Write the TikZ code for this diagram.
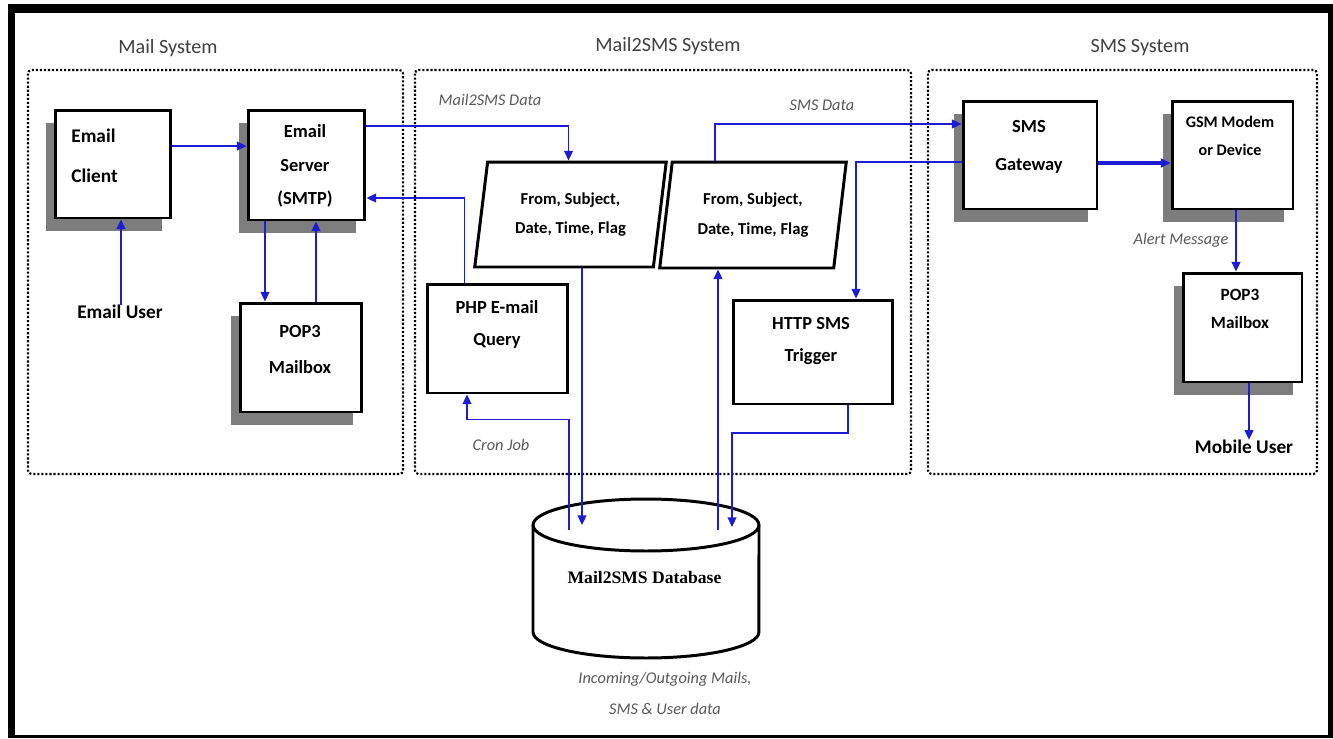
\documentclass[tikz,border=0pt]{standalone}
\usepackage{fontspec}
\setmainfont{Carlito}
\newfontfamily\dbfont{Liberation Serif}
\usetikzlibrary{arrows.meta,shapes.geometric,shadows,calc}
\definecolor{flowblue}{RGB}{28,28,212}
\definecolor{shadowgray}{RGB}{125,125,125}
\tikzset{
  box/.style={draw, line width=1.7pt, fill=white, inner sep=0pt},
  shadowed/.style={drop shadow={shadow xshift=-0.18cm, shadow yshift=-0.26cm, fill=shadowgray, opacity=1}},
  para/.style={box, trapezium, trapezium left angle=79, trapezium right angle=101,
    trapezium stretches=true, align=center, font=\bfseries\fontsize{9.5}{17}\selectfont},
  txt/.style 2 args={font=\bfseries\fontsize{#1}{#2}\selectfont, align=center, inner sep=0pt},
  note/.style={font=\itshape\fontsize{9.3}{17.6}\selectfont, text=black!65, align=center, inner sep=0pt},
  sysname/.style={font=\fontsize{11.5}{14}\selectfont, text=black!75, inner sep=0pt},
  sysframe/.style={line width=1.2pt, dash pattern=on 1.2pt off 1.1pt, rounded corners=2pt},
  flow/.style={draw=flowblue, line width=1pt, -{Triangle[length=5.5pt,width=5pt]}}
}

\begin{document}
\begin{tikzpicture}[x=0.02cm,y=-0.02cm]
 \useasboundingbox (0,0) rectangle (1333,738);
 % outer frame
 \fill[black] (8,4) rectangle (1333,738);
 \fill[white] (15,13) rectangle (1328,735);

 % the three systems
 \draw[sysframe] (28,70) rectangle (403,474);
 \draw[sysframe] (415,70) rectangle (911,474);
 \draw[sysframe] (928,70) rectangle (1317,474);
 \node[sysname] (mailsys) at (168,48) {Mail System};
 \node[sysname] (m2ssys) at (668,46) {Mail2SMS System};
 \node[sysname] (smssys) at (1140,48) {SMS System};

 % mail system
 \node[box, shadowed, minimum width=2.32cm, minimum height=2.16cm] (client) at (113,164) {};
 \node[txt={11}{22.8}, align=left, anchor=west] (clienttxt) at (71,156) {Email\\Client};
 \node[box, shadowed, minimum width=2.34cm, minimum height=2.2cm] (server) at (306.5,165) {};
 \node[txt={10.5}{19}] (servertxt) at (305,166) {Email\\Server\\(SMTP)};
 \node[box, shadowed, minimum width=2.44cm, minimum height=2.18cm] (pop3mail) at (301,357.5) {};
 \node[txt={10.5}{20.5}] (pop3mailtxt) at (300,350) {POP3\\Mailbox};
 \node[txt={11}{13}] (user) at (120,312) {Email User};

 % mail2sms system
 \node[para, minimum width=3.86cm, minimum height=2.1cm] (para1) at (570.5,214.5) {From, Subject,\\Date, Time, Flag};
 \node[para, minimum width=3.76cm, minimum height=2.12cm] (para2) at (753,215) {From, Subject,\\Date, Time, Flag};
 \node[box, minimum width=2.82cm, minimum height=2.18cm] (php) at (497.5,338.5) {};
 \node[txt={10.5}{18.2}] (phptxt) at (497,324) {PHP E-mail\\Query};
 \node[box, minimum width=3.2cm, minimum height=2.08cm] (http) at (813,352) {};
 \node[txt={10.5}{18.2}] (httptxt) at (811,341) {HTTP SMS\\Trigger};
 \node[note] (m2sdata) at (490,100) {Mail2SMS Data};
 \node[note] (smsdata) at (822,105) {SMS Data};
 \node[note] (cron) at (501,445) {Cron Job};

 % sms system
 \node[box, shadowed, minimum width=2.68cm, minimum height=2.16cm] (gateway) at (1030,155) {};
 \node[txt={10.5}{21.6}] (gatewaytxt) at (1029,147) {SMS\\Gateway};
 \node[box, shadowed, minimum width=2.42cm, minimum height=2.16cm] (gsm) at (1232.5,155) {};
 \node[txt={9.2}{16}] (gsmtxt) at (1230,136) {GSM Modem\\or Device};
 \node[box, shadowed, minimum width=2.38cm, minimum height=2.18cm] (pop3sms) at (1242.5,327.5) {};
 \node[txt={9.8}{16}] (pop3smstxt) at (1240,309) {POP3\\Mailbox};
 \node[note] (alert) at (1181,240) {Alert Message};
 \node[txt={11}{13}] (mobile) at (1244,447) {Mobile User};

 % database
 \coordinate (dbtop) at (646,525);
 \draw[line width=1.7pt, fill=white] (533,525) -- (533,632)
   arc[start angle=180, end angle=360, x radius=2.26cm, y radius=0.52cm] -- (759,525);
 \draw[line width=1.7pt] (dbtop) ellipse [x radius=2.26cm, y radius=0.52cm];
 \node[font=\dbfont\bfseries\fontsize{10}{12}\selectfont, inner sep=0pt] (db) at (644.5,577) {Mail2SMS Database};
 \node[note] (dbnote) at (665,693) {Incoming/Outgoing Mails,\\SMS \& User data};

 % connectors
 \draw[flow] ($(client.east)+(0,-18)$) coordinate (a) -- (a -| server.west);
 \draw[flow] (user.north -| 121,0) -- (client.south -| 121,0);
 \draw[flow] ($(server.south)+(-41.5,0)$) coordinate (a) -- (a |- pop3mail.north);
 \draw[flow] ($(pop3mail.north)+(15,0)$) coordinate (a) -- (a |- server.south);
 \draw[flow] ($(server.east)+(0,-39)$) -| ($(para1.north)+(-2,0)$);
 \draw[flow] ($(php.north)+(-33,0)$) |- ($(server.east)+(0,33)$);
 \draw[flow] ($(para1.south)+(11.5,0)$) coordinate (a) -- (a |- dbtop);
 \draw[flow] ($(dbtop)+(-77,5)$) |- ($(php.south)+(-30.5,25)$) -- ($(php.south)+(-30.5,0)$);
 \draw[flow] ($(dbtop)+(72,5)$) coordinate (a) -- (a |- para2.south);
 \draw[flow] ($(http.south)+(35,0)$) |- ($(dbtop)+(86,-92)$) -- ($(dbtop)+(86,2)$);
 \draw[flow] ($(para2.north)+(-38,0)$) |- ($(gateway.west)+(0,-31)$);
 \draw[flow] ($(gateway.west)+(0,7)$) -| ($(http.north)+(43,0)$);
 \draw[flow, line width=2pt] ($(gateway.east)+(0,8)$) coordinate (a) -- (a -| gsm.west);
 \draw[flow] ($(gsm.south)+(3.5,0)$) coordinate (a) -- (a |- pop3sms.north);
 \draw[flow] ($(pop3sms.south)+(6.5,0)$) coordinate (a) -- (a |- mobile.north);
\end{tikzpicture}
\end{document}
